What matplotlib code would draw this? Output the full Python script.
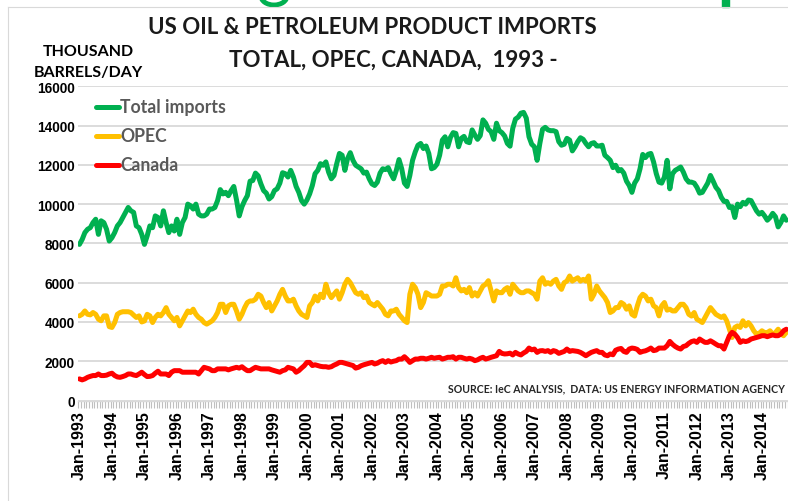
import matplotlib
matplotlib.use("Agg")
import matplotlib.pyplot as plt
from matplotlib.lines import Line2D
from matplotlib.patches import Arc, Rectangle

# ---------------- data (thousand barrels/day, monthly from Jan-1993) ----------------
total_imports = [
    7950, 8200, 8550, 8720, 8800, 9060, 9230, 8460, 9150, 9060, 8720, 8120,        # 1993
    8290, 8550, 8890, 9060, 9320, 9580, 9830, 9660, 9580, 8890, 8800, 8460,        # 1994
    7950, 8380, 8890, 8800, 9400, 9320, 8890, 9660, 9060, 8550, 8890, 8630,        # 1995
    9230, 8460, 9060, 9320, 10000, 9920, 9750, 10000, 9490, 9400, 9400, 9490,      # 1996
    9750, 9750, 9830, 10180, 10740, 10520, 10600, 10430, 10690, 10900, 10210, 9400,   # 1997
    9870, 10180, 10430, 11170, 11200, 11580, 11440, 11030, 10690, 10560, 10260, 10380,  # 1998
    10690, 10780, 11070, 11600, 11550, 11380, 11720, 11380, 10900, 10600, 10180, 10000,  # 1999
    10210, 10520, 10950, 11550, 11720, 12060, 11980, 12150, 11630, 11290, 11460, 12060,  # 2000
    12580, 12490, 11720, 12320, 12620, 12230, 11980, 11890, 11800, 11580, 11630, 11290,  # 2001
    11030, 10950, 11120, 11580, 11800, 11760, 11860, 11550, 11290, 11720, 12270, 11800,  # 2002
    11070, 10900, 11460, 12230, 12660, 13000, 13090, 12830, 12960, 12580, 11800, 11860,  # 2003
    12030, 12490, 13260, 13430, 12920, 13400, 13640, 13600, 12920, 13350, 13450, 13180,  # 2004
    13130, 13780, 13520, 13300, 13490, 14290, 14120, 13810, 13690, 13300, 14120, 13740,  # 2005
    13640, 13470, 13090, 12950, 13860, 14330, 14430, 14630, 14670, 14380, 13430, 13050,  # 2006
    12920, 12230, 13090, 13810, 13910, 13780, 13740, 13740, 13690, 13180, 13000, 13050,  # 2007
    13350, 13260, 12710, 12920, 13180, 13380, 13300, 13090, 12920, 13090, 13130, 12960,  # 2008
    12960, 13000, 12490, 12370, 12230, 11860, 11980, 11690, 11760, 11580, 11170, 10950,  # 2009
    10600, 11070, 11290, 11800, 12530, 12370, 12540, 12580, 12150, 11550, 11120, 11070,  # 2010
    11380, 12230, 10780, 11550, 11720, 11800, 11890, 11630, 11290, 11120, 11120, 11070,  # 2011
    10860, 10560, 10600, 10830, 11070, 11460, 11170, 10860, 10690, 10350, 10140, 10140,  # 2012
    9830, 9870, 9320, 10000, 9870, 10090, 10000, 10210, 10180, 9920, 9660, 9490,        # 2013
    9580, 9400, 9180, 9320, 9530, 9360, 8840, 9060, 9400, 9180,                          # 2014
]

opec_imports = [
    4310, 4390, 4560, 4390, 4360, 4480, 4390, 4140, 4060, 4310, 4310, 3760,   # 1993
    3720, 3970, 4390, 4480, 4520, 4520, 4520, 4480, 4350, 4230, 4310, 4000,   # 1994
    4050, 4390, 4310, 3970, 4230, 4390, 4310, 4480, 4730, 4390, 4230, 4060,   # 1995
    4230, 3800, 4060, 4310, 4560, 4480, 4650, 4390, 4230, 4140, 3970, 3890,   # 1996
    3970, 4060, 4230, 4480, 4900, 4900, 4480, 4820, 4900, 4900, 4560, 4140,   # 1997
    4390, 4730, 4990, 5070, 5070, 5160, 5410, 5320, 4990, 4730, 4990, 4560,   # 1998
    4820, 5070, 5410, 5660, 5320, 5070, 5070, 5160, 4820, 4560, 4390, 4310,   # 1999
    4230, 4820, 4990, 5320, 5070, 5410, 5240, 5920, 5490, 5240, 5410, 5580,   # 2000
    5160, 5490, 5920, 6170, 6000, 5750, 5490, 5410, 5490, 5240, 5320, 4990,   # 2001
    4900, 4820, 4990, 4820, 4650, 4390, 4310, 4560, 4560, 4650, 4390, 4230,   # 2002
    4060, 3970, 5410, 5920, 5750, 5410, 4730, 4990, 5490, 5410, 5320, 5320,   # 2003
    5320, 5410, 5830, 5830, 5920, 5920, 5830, 6250, 5750, 5580, 5660, 5490,   # 2004
    5750, 5320, 5490, 5320, 5580, 5830, 5920, 6100, 5580, 5070, 5580, 5490,   # 2005
    5490, 5660, 5750, 5410, 5920, 5750, 5580, 5490, 5490, 5580, 5580, 5490,   # 2006
    5410, 5160, 6080, 6250, 5920, 6000, 5920, 6080, 6170, 5830, 5660, 6000,   # 2007
    6080, 6340, 6080, 6170, 6250, 6080, 6170, 6080, 6340, 5160, 5410, 5830,   # 2008
    5580, 5410, 5240, 4990, 4480, 4560, 4730, 4730, 4990, 4900, 4650, 4820,   # 2009
    4390, 4300, 4820, 5240, 5410, 5320, 5070, 5160, 4820, 4730, 4310, 4820,   # 2010
    4990, 4600, 4650, 4560, 4560, 4730, 4900, 4900, 4730, 4390, 4300, 4480,   # 2011
    4140, 4060, 3970, 4230, 4480, 4730, 4560, 4390, 4310, 4230, 4310, 4060,   # 2012
    3630, 3210, 3720, 3800, 3720, 4060, 3800, 3970, 3800, 3550, 3380, 3420,   # 2013
    3550, 3460, 3460, 3550, 3380, 3460, 3630, 3380, 3300, 3460,               # 2014
]

canada_imports = [
    1100, 1050, 1100, 1180, 1230, 1270, 1270, 1350, 1270, 1270, 1290, 1350,   # 1993
    1390, 1270, 1200, 1180, 1220, 1270, 1350, 1350, 1300, 1270, 1350, 1440,   # 1994
    1320, 1220, 1230, 1270, 1390, 1490, 1350, 1350, 1350, 1270, 1440, 1520,   # 1995
    1520, 1520, 1440, 1440, 1440, 1440, 1440, 1440, 1350, 1520, 1690, 1650,   # 1996
    1610, 1520, 1520, 1610, 1610, 1610, 1610, 1560, 1610, 1650, 1690, 1650,   # 1997
    1720, 1610, 1520, 1520, 1610, 1690, 1650, 1610, 1610, 1610, 1610, 1560,   # 1998
    1520, 1480, 1440, 1520, 1560, 1690, 1650, 1610, 1440, 1520, 1650, 1770,   # 1999
    1940, 1940, 1780, 1820, 1780, 1740, 1720, 1720, 1690, 1720, 1800, 1860,   # 2000
    1940, 1940, 1900, 1860, 1820, 1780, 1650, 1690, 1770, 1820, 1860, 1900,   # 2001
    1940, 1860, 1900, 1980, 2030, 1940, 2030, 1960, 2000, 2030, 2110, 2110,   # 2002
    2230, 2100, 1940, 2030, 2110, 2110, 2150, 2150, 2110, 2150, 2200, 2150,   # 2003
    2180, 2200, 2110, 2150, 2200, 2200, 2230, 2110, 2200, 2200, 2150, 2110,   # 2004
    2150, 2110, 2030, 2070, 2150, 2200, 2110, 2150, 2200, 2240, 2280, 2500,   # 2005
    2400, 2370, 2380, 2410, 2320, 2450, 2370, 2320, 2420, 2500, 2670, 2580,   # 2006
    2620, 2450, 2530, 2540, 2500, 2540, 2450, 2540, 2500, 2400, 2450, 2500,   # 2007
    2620, 2500, 2540, 2520, 2500, 2450, 2370, 2280, 2370, 2450, 2500, 2540,   # 2008
    2450, 2450, 2320, 2280, 2370, 2330, 2560, 2620, 2650, 2500, 2450, 2620,   # 2009
    2670, 2650, 2600, 2450, 2500, 2530, 2590, 2670, 2540, 2570, 2670, 2670,   # 2010
    2670, 2790, 3010, 2860, 2750, 2670, 2620, 2750, 2790, 2910, 3000, 3040,   # 2011
    2960, 3130, 3040, 2960, 2960, 3040, 2960, 2870, 2790, 2790, 2620, 2960,   # 2012
    3300, 3470, 3380, 3210, 2960, 3040, 3000, 3040, 3130, 3170, 3210, 3250,   # 2013
    3300, 3300, 3250, 3300, 3340, 3300, 3300, 3380, 3550, 3630,               # 2014
]

years = list(range(1993, 2015))
tick_labels = [f"Jan-{y}" for y in years]
y_ticks = [0, 2000, 4000, 6000, 8000, 10000, 12000, 14000, 16000]

series_names = ["Total imports", "OPEC", "Canada"]
series_colors = ["#00B050", "#FFC000", "#FF0000"]

# ---------------- figure ----------------
W, H = 788, 502
fig = plt.figure(figsize=(W / 100, H / 100), dpi=100)
fig.patch.set_facecolor("white")


def fx(px):
    return px / W


def fy(py):
    return 1 - py / H


ax = fig.add_axes([fx(78.1), fy(401.5), 719 / W, (401.5 - 87.3) / H])

lw = 3.6
for vals, col in zip([total_imports, opec_imports, canada_imports], series_colors):
    ax.plot(range(len(vals)), vals, color=col, lw=lw,
            solid_joinstyle="round", solid_capstyle="round", zorder=3)

ax.set_xlim(-0.5, 265)
ax.set_ylim(0, 16000)

# y axis
ax.set_yticks(y_ticks)
ax.set_yticklabels([str(v) for v in y_ticks], fontfamily="Liberation Sans",
                   fontweight="bold", fontsize=9.8, color="black")
ax.tick_params(axis="y", length=0, pad=2.5)
ax.grid(axis="y", color="#D9D9D9", lw=1.3, zorder=0)
ax.set_axisbelow(True)

# x axis: category ticks every month, labels each January
ax.set_xticks([12 * k for k in range(len(years))])
ax.set_xticklabels(tick_labels, rotation=90, fontfamily="Liberation Sans",
                   fontweight="bold", fontsize=11.5, color="black")
ax.set_xticks([m - 0.5 for m in range(len(total_imports) + 4)], minor=True)
ax.tick_params(axis="x", which="major", length=0, pad=7)
ax.tick_params(axis="x", which="minor", length=5, width=0.8, color="#BFBFBF")

for s in ["left", "right", "top"]:
    ax.spines[s].set_visible(False)
ax.spines["bottom"].set_color("#D9D9D9")
ax.spines["bottom"].set_linewidth(1.0)

# legend (manual, as in the original)
leg_y = [108, 137, 165.5]
for name, col, yy in zip(series_names, series_colors, leg_y):
    fig.add_artist(Line2D([fx(96), fx(119)], [fy(yy), fy(yy)], color=col, lw=lw,
                          solid_capstyle="round"))
    fig.text(fx(120), fy(yy), name, fontfamily="Lato", fontweight="bold",
             fontsize=12.7, color="#595959", va="center", ha="left")

# titles
fig.text(fx(372.5), fy(27), "US OIL & PETROLEUM PRODUCT IMPORTS", fontfamily="Lato",
         fontweight="bold", fontsize=16, color="#1a1a1a", ha="center", va="center")
fig.text(fx(393.5), fy(60), "TOTAL, OPEC, CANADA,  1993 -", fontfamily="Lato",
         fontweight="bold", fontsize=16, color="#1a1a1a", ha="center", va="center")

# unit label
fig.text(fx(88), fy(52), "THOUSAND", fontfamily="Lato", fontweight="bold",
         fontsize=11.5, color="black", ha="center", va="center")
fig.text(fx(88), fy(73), "BARRELS/DAY", fontfamily="Lato", fontweight="bold",
         fontsize=11.5, color="black", ha="center", va="center")

# source note
fig.text(fx(785), fy(389), "SOURCE: IeC ANALYSIS,  DATA: US ENERGY INFORMATION AGENCY",
         fontfamily="Lato", fontweight="bold", fontsize=7.6, color="#262626",
         ha="right", va="center")

# cropped remnants of the green slide heading along the top edge (decoration)
fig.add_artist(Arc((fx(274), fy(-3)), 26 / W, 18 / H, theta1=180, theta2=360,
                   color="#00B050", lw=3.5, transform=fig.transFigure))
fig.add_artist(Rectangle((fx(722), fy(8)), 7 / W, 8 / H, color="#00B050",
                         transform=fig.transFigure))

# chart frame (top and left edges visible)
fig.add_artist(Line2D([fx(7.5), fx(7.5)], [fy(7.5), fy(502)], color="#D9D9D9", lw=0.8))
fig.add_artist(Line2D([fx(7.5), fx(790)], [fy(7.5), fy(7.5)], color="#D9D9D9", lw=0.8))

fig.savefig("out.png", dpi=100, facecolor="white")
